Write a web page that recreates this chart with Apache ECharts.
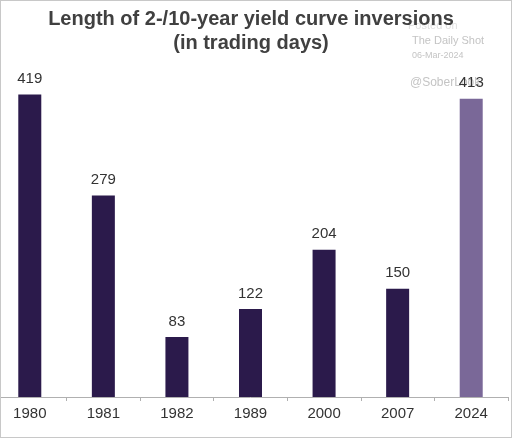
<!DOCTYPE html>
<html lang="en">
<head>
    <meta charset="UTF-8">
    <title>Yield curve inversions</title>
    <script src="https://cdn.jsdelivr.net/npm/echarts@6/dist/echarts.min.js"></script>
    <style>
        html, body { margin: 0; padding: 0; background: #fff; overflow: hidden; }
        #chart { position: absolute; left: -8px; top: 0; width: 520px; height: 438px; }
        #frame { position: absolute; left: 0; top: 0; width: 512px; height: 438px; box-sizing: border-box;
                 border: 1px solid #c8c8c8; pointer-events: none; }
    </style>
</head>
<body>
<div id="chart"></div>
<div id="frame"></div>
<script>
    // inversion episodes (start year) and length in trading days
    var years = ['1980', '1981', '1982', '1989', '2000', '2007', '2024'];
    var days = [419, 279, 83, 122, 204, 150, 413];
    var barColors = ['#2b1a4b', '#2b1a4b', '#2b1a4b', '#2b1a4b', '#2b1a4b', '#2b1a4b', '#7a6898'];

    var chart = echarts.init(document.getElementById('chart'));
    var font = 'Liberation Sans, Arial, sans-serif';
    var dx = 8; // chart div is shifted left by 8px

    chart.setOption({
        animation: false,
        title: {
            text: 'Length of 2-/10-year yield curve inversions\n(in trading days)',
            left: 246 + dx,
            textAlign: 'center',
            top: 2,
            textStyle: {
                fontFamily: font,
                fontWeight: 'bold',
                fontSize: 20,
                lineHeight: 24,
                color: '#404040'
            }
        },
        graphic: [
            { type: 'text', left: 408 + dx, top: 20, z: -1, style: { text: 'Posted on', font: '11px ' + font, fill: '#e0e0e0' } },
            { type: 'text', left: 412 + dx, top: 35, style: { text: 'The Daily Shot', font: '11px ' + font, fill: '#c4c4c4' } },
            { type: 'text', left: 412 + dx, top: 51, style: { text: '06-Mar-2024', font: '9px ' + font, fill: '#c4c4c4' } },
            { type: 'text', left: 410 + dx, top: 77, style: { text: '@SoberLook', font: '12px ' + font, fill: '#c4c4c4' } }
        ],
        grid: {
            left: 1,
            right: 4,
            top: 36,
            bottom: 41
        },
        xAxis: {
            type: 'category',
            data: years,
            axisLine: { lineStyle: { color: '#b0b0b0', width: 1 } },
            axisTick: { show: true, length: 4, lineStyle: { color: '#b0b0b0' } },
            axisLabel: {
                fontFamily: font,
                fontSize: 15,
                color: '#333',
                margin: 9
            }
        },
        yAxis: {
            type: 'value',
            min: 0,
            max: 500,
            show: false,
            splitLine: { show: false }
        },
        series: [{
            type: 'bar',
            barWidth: 23,
            data: days.map(function (v, i) {
                return { value: v, itemStyle: { color: barColors[i] } };
            }),
            label: {
                show: true,
                position: 'top',
                distance: 8,
                fontFamily: font,
                fontSize: 15,
                color: '#333'
            },
            z: 3
        }]
    });
</script>
</body>
</html>
